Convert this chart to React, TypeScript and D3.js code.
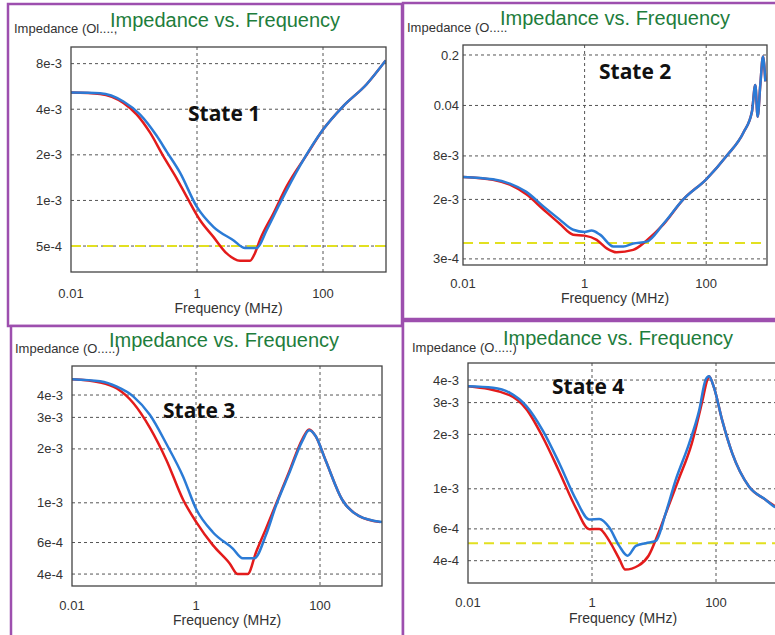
import React from 'react';
import * as d3 from 'd3';

type Pt = [number, number];

// [frequency MHz, impedance Ohm]
const state1Red: Pt[] = [
  [0.01, 5.15e-3], [0.029, 5.05e-3], [0.068, 4.4e-3], [0.11, 3.7e-3], [0.18, 2.8e-3],
  [0.29, 1.97e-3], [0.475, 1.4e-3], [0.685, 1.06e-3], [1.12, 7.4e-4], [1.82, 5.75e-4],
  [2.96, 4.47e-4], [4.82, 4.0e-4], [6.94, 4.0e-4], [8.34, 4.5e-4], [10, 5.5e-4],
  [16.3, 8.2e-4], [26.5, 1.24e-3], [55, 2.0e-3], [101, 2.95e-3], [210, 4.2e-3],
  [493, 5.85e-3], [990, 8.4e-3],
];
const state1Blue: Pt[] = [
  [0.01, 5.15e-3], [0.029, 5.1e-3], [0.068, 4.5e-3], [0.124, 3.7e-3], [0.229, 2.67e-3],
  [0.33, 2.1e-3], [0.54, 1.52e-3], [0.99, 9.1e-4], [1.82, 6.7e-4], [3.77, 5.46e-4],
  [5.78, 4.85e-4], [8.85, 4.85e-4], [12.8, 6.4e-4], [20.8, 9.6e-4], [43, 1.69e-3],
  [101, 2.95e-3], [210, 4.2e-3], [493, 5.85e-3], [990, 8.4e-3],
];

const state2Red: Pt[] = [
  [0.01, 4.1e-3], [0.031, 3.75e-3], [0.059, 3.2e-3], [0.11, 2.35e-3], [0.21, 1.45e-3],
  [0.39, 9.2e-4], [0.65, 6.5e-4], [1.0, 6.3e-4], [1.58, 5.5e-4], [2.31, 4.2e-4],
  [3.37, 3.7e-4], [6.3, 4.0e-4], [10.5, 5.4e-4], [19.8, 9.0e-4], [42, 2.0e-3],
  [100, 3.8e-3], [219, 8.1e-3], [412, 1.7e-2], [566, 3.3e-2], [642, 7.7e-2],
  [702, 2.8e-2], [776, 7.7e-2], [859, 0.19], [940, 8.6e-2],
];
const state2Blue: Pt[] = [
  [0.01, 4.1e-3], [0.031, 3.8e-3], [0.059, 3.3e-3], [0.11, 2.54e-3], [0.21, 1.6e-3],
  [0.39, 1.05e-3], [0.65, 7.6e-4], [1.0, 7.1e-4], [1.3, 7.4e-4], [1.79, 6.5e-4],
  [2.97, 4.45e-4], [4.34, 4.45e-4], [6.3, 4.9e-4], [10.5, 5.2e-4], [19.8, 9.2e-4],
  [42, 2.0e-3], [100, 3.8e-3], [219, 8.1e-3], [412, 1.7e-2], [566, 3.3e-2],
  [642, 7.7e-2], [702, 2.8e-2], [776, 7.7e-2], [859, 0.19], [940, 8.6e-2],
];

const state3Red: Pt[] = [
  [0.01, 4.9e-3], [0.0285, 4.7e-3], [0.053, 4.35e-3], [0.098, 3.6e-3], [0.18, 2.63e-3],
  [0.334, 1.73e-3], [0.62, 1.04e-3], [1.01, 7.8e-4], [1.87, 5.8e-4], [3.47, 4.6e-4],
  [4.72, 4.0e-4], [6.82, 4.0e-4], [9.3, 5.3e-4], [13.4, 7.15e-4], [19.4, 9.8e-4],
  [31.8, 1.49e-3], [52, 2.27e-3], [66.7, 2.57e-3], [85, 2.36e-3], [123, 1.73e-3],
  [228, 1.04e-3], [422, 8.45e-4], [940, 7.8e-4],
];
const state3Blue: Pt[] = [
  [0.01, 4.9e-3], [0.0285, 4.77e-3], [0.053, 4.45e-3], [0.098, 3.92e-3], [0.18, 3.1e-3],
  [0.334, 2.13e-3], [0.62, 1.4e-3], [1.01, 9.2e-4], [1.87, 6.85e-4], [3.93, 5.55e-4],
  [5.68, 4.9e-4], [8.73, 4.9e-4], [13.4, 6.6e-4], [19.4, 9.6e-4], [31.8, 1.46e-3],
  [52, 2.22e-3], [66.7, 2.54e-3], [85, 2.36e-3], [123, 1.73e-3], [228, 1.04e-3],
  [422, 8.45e-4], [1000, 7.8e-4],
];

const state4Red: Pt[] = [
  [0.01, 3.7e-3], [0.0468, 3.3e-3], [0.0867, 2.77e-3], [0.161, 1.93e-3], [0.298, 1.24e-3],
  [0.553, 7.8e-4], [0.906, 5.97e-4], [1.31, 6.0e-4], [1.9, 5.15e-4], [2.75, 4.09e-4],
  [3.44, 3.57e-4], [5.64, 3.76e-4], [8.17, 4.26e-4], [11.8, 5.7e-4], [17.1, 8.0e-4],
  [24.8, 1.12e-3], [40.6, 1.78e-3], [60.3, 3.07e-3], [72.6, 4.03e-3], [77.1, 4.2e-3],
  [92.9, 3.63e-3], [126, 2.39e-3], [183, 1.57e-3], [340, 1.03e-3], [630, 8.7e-4],
  [1000, 7.8e-4],
];
const state4Blue: Pt[] = [
  [0.01, 3.7e-3], [0.0253, 3.63e-3], [0.0468, 3.41e-3], [0.0867, 2.88e-3], [0.161, 2.1e-3],
  [0.298, 1.38e-3], [0.553, 8.7e-4], [0.906, 6.77e-4], [1.31, 6.8e-4], [1.9, 6.1e-4],
  [2.75, 4.83e-4], [3.75, 4.26e-4], [5.11, 4.83e-4], [7.4, 5.0e-4], [10.7, 5.15e-4],
  [15.5, 7.36e-4], [22.4, 1.12e-3], [36.8, 1.78e-3], [53.3, 2.7e-3], [68.2, 4.03e-3],
  [77.1, 4.2e-3], [92.9, 3.63e-3], [126, 2.39e-3], [183, 1.57e-3], [340, 1.03e-3],
  [630, 8.7e-4], [857, 8.0e-4], [1000, 7.8e-4],
];

const limitValue = 5e-4;

const freqTicks = [0.01, 1, 100];
const freqTickLabels = ['0.01', '1', '100'];

const state1Ticks = [8e-3, 4e-3, 2e-3, 1e-3, 5e-4];
const state1TickLabels = ['8e-3', '4e-3', '2e-3', '1e-3', '5e-4'];
const state2Ticks = [0.2, 0.04, 8e-3, 2e-3, 3e-4];
const state2TickLabels = ['0.2', '0.04', '8e-3', '2e-3', '3e-4'];
const state34Ticks = [4e-3, 3e-3, 2e-3, 1e-3, 6e-4, 4e-4];
const state34TickLabels = ['4e-3', '3e-3', '2e-3', '1e-3', '6e-4', '4e-4'];

const stateNames = ['State 1', 'State 2', 'State 3', 'State 4'];
const yTitles = ['Impedance (Ol....,', 'Impedance (O.....', 'Impedance (O.....)', 'Impedance (O.....)'];

// layout of each captured window (pixel boxes from the screenshot)
const panels = [
  { red: state1Red, blue: state1Blue, ticks: state1Ticks, labels: state1TickLabels, yDomain: [3.37e-4, 1.03e-2],
    limit: true, frame: [8, 4, 402, 326], plot: [71, 47, 386, 272], title: [110, 27], yTitle: [14, 33],
    state: [188, 121], xLabelY: 298, xTitleY: 313, gap: 9 },
  { red: state2Red, blue: state2Blue, ticks: state2Ticks, labels: state2TickLabels, yDomain: [2.47e-4, 0.275],
    limit: true, frame: [403, 3, 777, 319], plot: [463, 45, 767, 265], title: [500, 25], yTitle: [407, 32],
    state: [599, 79], xLabelY: 288, xTitleY: 303, gap: 4 },
  { red: state3Red, blue: state3Blue, ticks: state34Ticks, labels: state34TickLabels, yDomain: [3.43e-4, 5.81e-3],
    limit: false, frame: [11, 326, 403, 640], plot: [72, 366, 382, 586], title: [109, 347], yTitle: [15, 353],
    state: [163, 418], xLabelY: 610, xTitleY: 625, gap: 9 },
  { red: state4Red, blue: state4Blue, ticks: state34Ticks, labels: state34TickLabels, yDomain: [3.01e-4, 4.97e-3],
    limit: true, frame: [403, 321, 780, 640], plot: [468, 363, 778, 583], title: [503, 345], yTitle: [412, 352],
    state: [552, 394], xLabelY: 607, xTitleY: 623, gap: 9 },
];

const sans = '"Liberation Sans", Arial, sans-serif';

function Panel({ p, i }: { p: typeof panels[number]; i: number }) {
  const [l, t, r, b] = p.plot;
  const x = d3.scaleLog().domain([0.01, 1000]).range([l, r]);
  const y = d3.scaleLog().domain(p.yDomain).range([b, t]);
  const line = d3.line<Pt>().x(d => x(d[0])).y(d => y(d[1])).curve(d3.curveMonotoneX);
  const clipId = `clip${i}`;
  const [fl, ft, fr, fb] = p.frame;

  return (
    <g>
      <rect x={fl} y={ft} width={fr - fl} height={fb - ft} fill="#fff" stroke="#9d4fae" strokeWidth={2.5} />
      <clipPath id={clipId}>
        <rect x={l} y={t} width={r - l} height={b - t} />
      </clipPath>
      <text x={p.yTitle[0]} y={p.yTitle[1]} fontFamily={sans} fontSize={13} fill="#333">{yTitles[i]}</text>
      <text x={p.title[0]} y={p.title[1]} fontFamily={sans} fontSize={20} fill="#1e7d3c">Impedance vs. Frequency</text>

      {p.ticks.map((v, k) => (
        <g key={k}>
          <line x1={l} x2={r} y1={y(v)} y2={y(v)} stroke="#555" strokeWidth={1} strokeDasharray="3,3" />
          <text x={l - p.gap} y={y(v)} dy="0.35em" textAnchor="end" fontFamily={sans} fontSize={13} fill="#333">
            {p.labels[k]}
          </text>
        </g>
      ))}
      {freqTicks.map((v, k) => (
        <g key={k}>
          {k > 0 && <line x1={x(v)} x2={x(v)} y1={t} y2={b} stroke="#555" strokeWidth={1} strokeDasharray="3,3" />}
          <text x={x(v)} y={p.xLabelY} textAnchor="middle" fontFamily={sans} fontSize={13} fill="#333">
            {freqTickLabels[k]}
          </text>
        </g>
      ))}
      <text x={(l + r) / 2} y={p.xTitleY} textAnchor="middle" fontFamily={sans} fontSize={14} fill="#333">
        Frequency (MHz)
      </text>

      <g clipPath={`url(#${clipId})`}>
        {p.limit && (
          <line x1={l} x2={r} y1={y(limitValue)} y2={y(limitValue)} stroke="#e2e020" strokeWidth={2} strokeDasharray="10,6" />
        )}
        <path d={line(p.red) || ''} fill="none" stroke="#e31b1b" strokeWidth={2.5} strokeLinejoin="round" />
        <path d={line(p.blue) || ''} fill="none" stroke="#2b7bd6" strokeWidth={2.5} strokeLinejoin="round" />
      </g>
      <rect x={l} y={t} width={r - l} height={b - t} fill="none" stroke="#444" strokeWidth={1.3} />

      <text x={p.state[0]} y={p.state[1]} fontFamily='"Open Sans", sans-serif' fontWeight={700} fontSize={21} fill="#111">
        {stateNames[i]}
      </text>
    </g>
  );
}

export default function App() {
  return (
    <svg width={775} height={635} style={{ position: 'absolute', left: 0, top: 0, background: '#fff' }}>
      <rect width={775} height={635} fill="#fff" />
      {panels.map((p, i) => <Panel key={i} p={p} i={i} />)}
    </svg>
  );
}
